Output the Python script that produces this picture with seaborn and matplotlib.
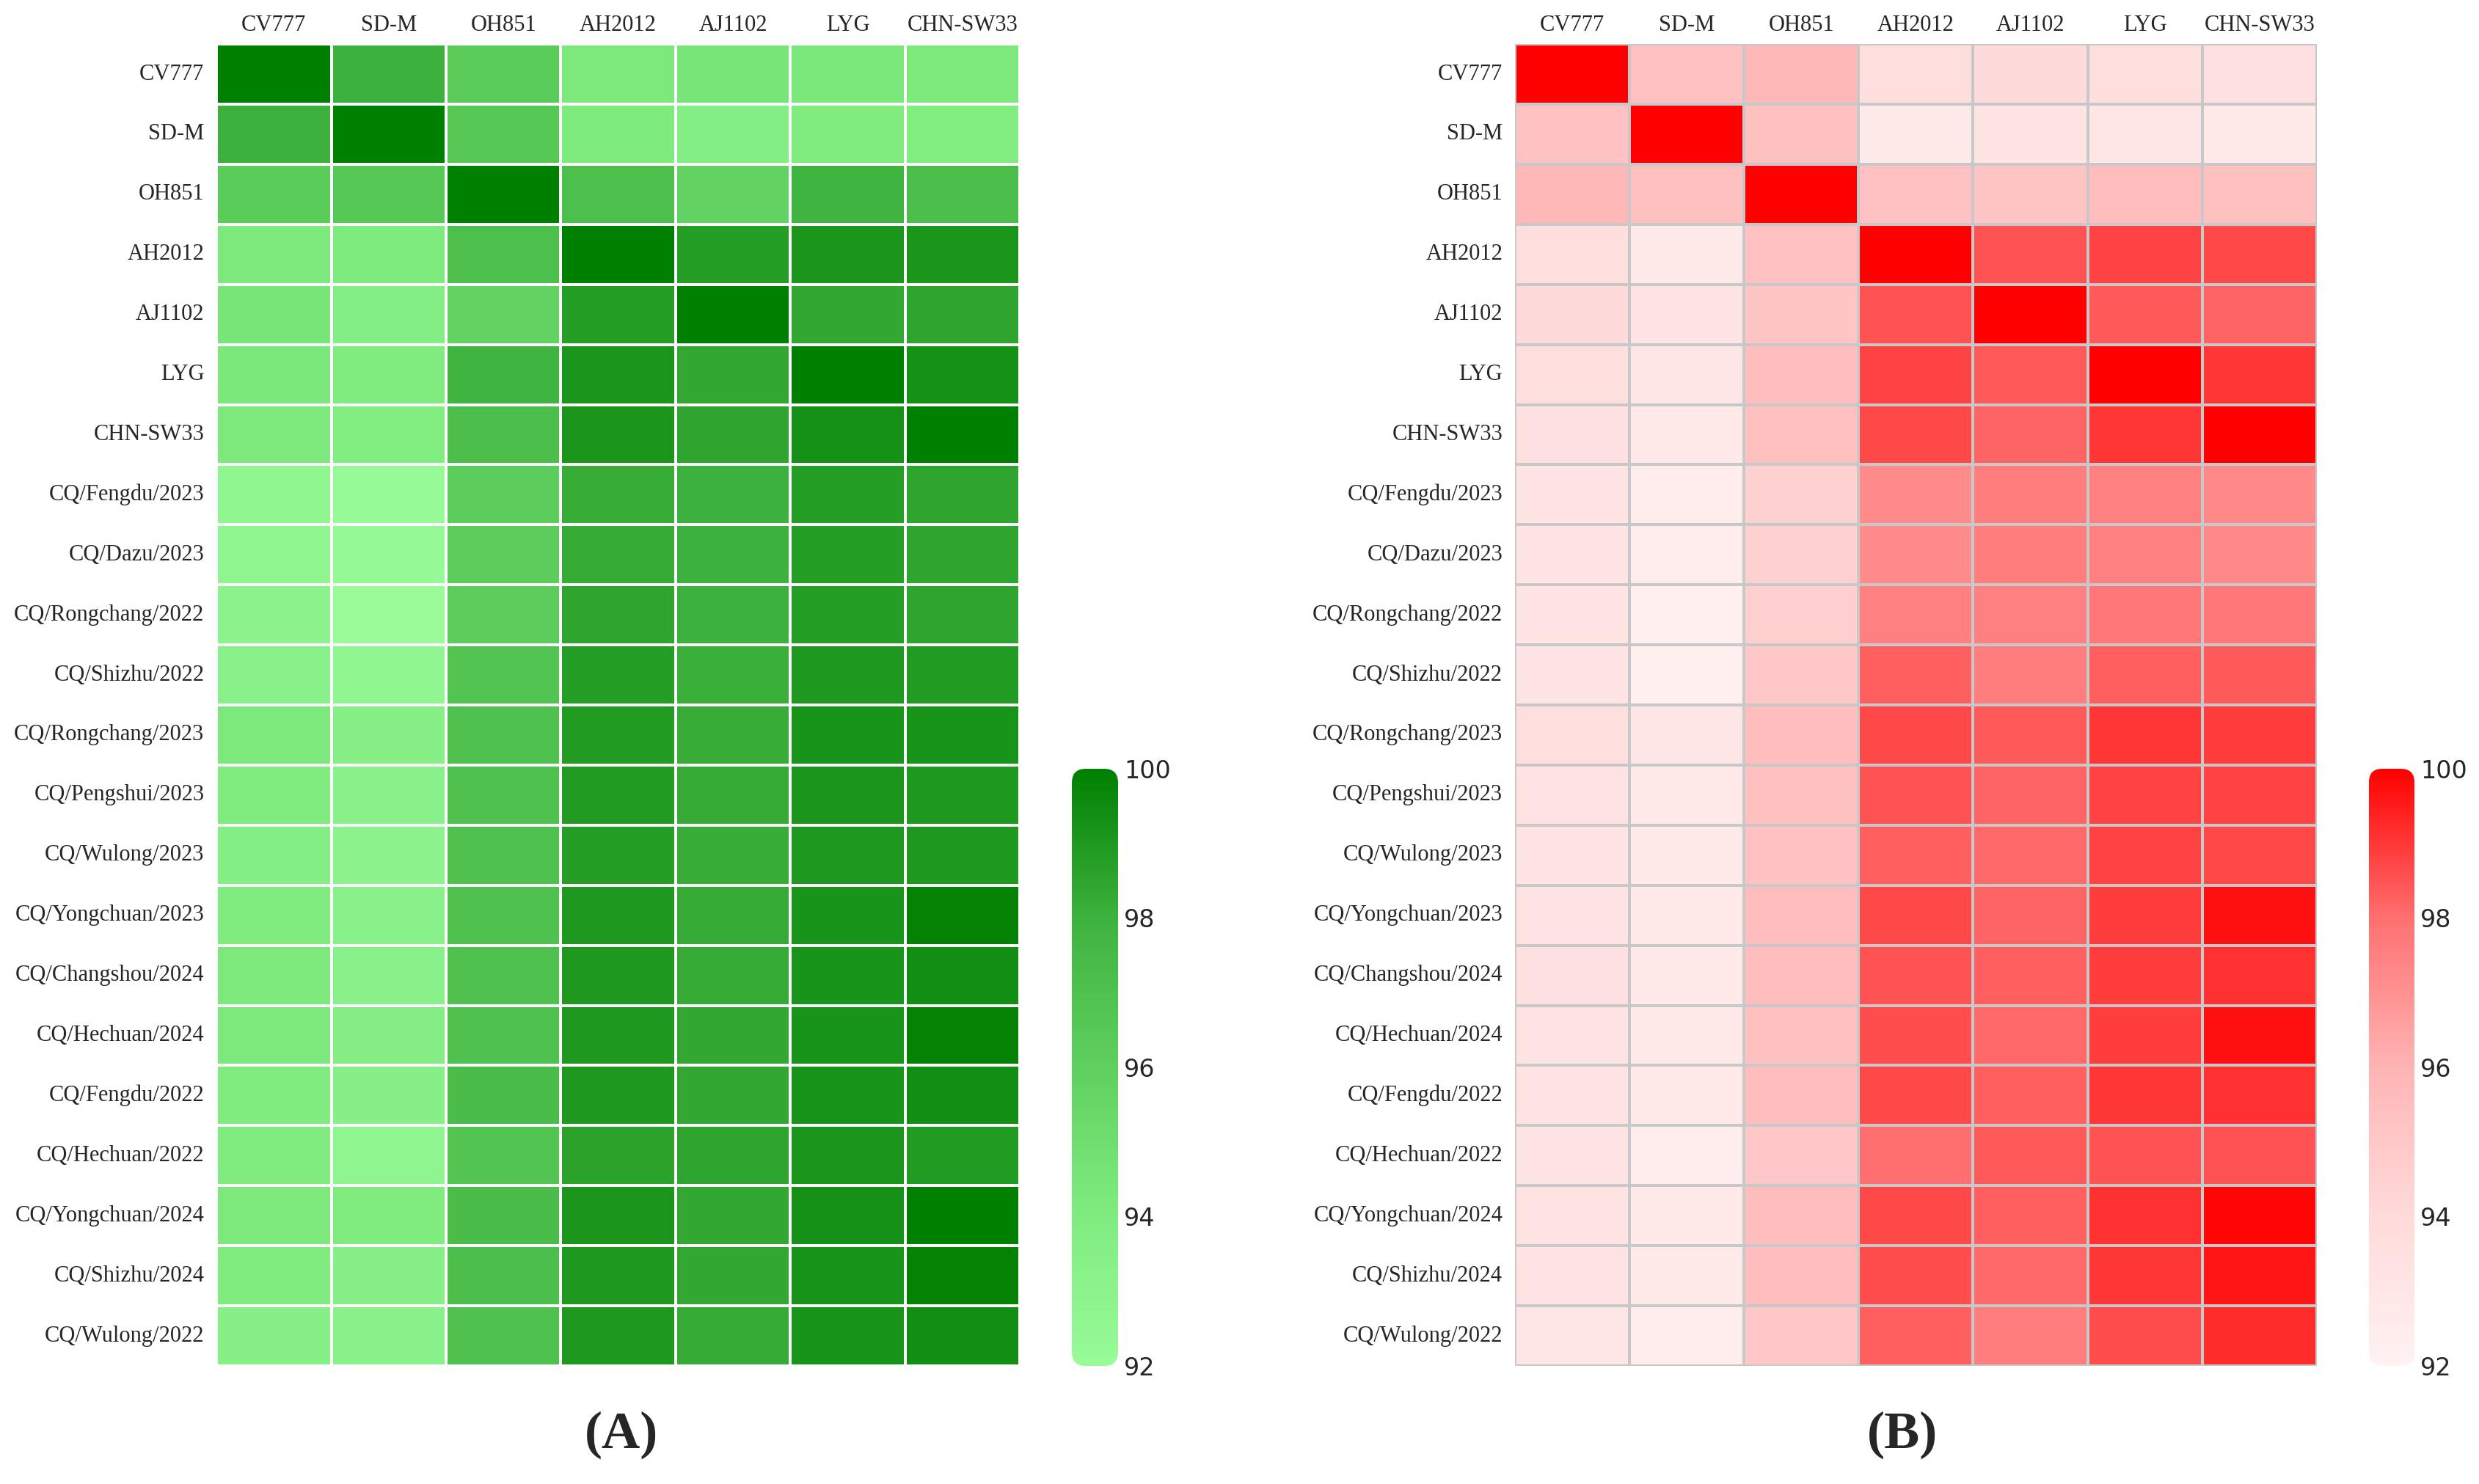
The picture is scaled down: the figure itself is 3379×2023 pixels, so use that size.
import numpy as np
import pandas as pd
import matplotlib
matplotlib.use("Agg")
import matplotlib.pyplot as plt
import seaborn as sns
from matplotlib.colors import LinearSegmentedColormap
from matplotlib.patches import FancyBboxPatch

# reference strains (columns) and all isolates (rows)
strains = ["CV777", "SD-M", "OH851", "AH2012", "AJ1102", "LYG", "CHN-SW33"]
isolates = strains + [
    "CQ/Fengdu/2023", "CQ/Dazu/2023", "CQ/Rongchang/2022", "CQ/Shizhu/2022",
    "CQ/Rongchang/2023", "CQ/Pengshui/2023", "CQ/Wulong/2023", "CQ/Yongchuan/2023",
    "CQ/Changshou/2024", "CQ/Hechuan/2024", "CQ/Fengdu/2022", "CQ/Hechuan/2022",
    "CQ/Yongchuan/2024", "CQ/Shizhu/2024", "CQ/Wulong/2022",
]

# panel A identity (%)
identity_a = [
    [100.0, 98.0, 96.3, 94.2, 94.5, 94.3, 94.2],
    [98.0, 100.0, 96.5, 94.1, 93.8, 94.0, 93.9],
    [96.3, 96.5, 100.0, 97.1, 95.8, 97.9, 97.2],
    [94.2, 94.1, 97.1, 100.0, 98.8, 99.1, 99.1],
    [94.5, 93.8, 95.8, 98.8, 100.0, 98.4, 98.5],
    [94.3, 94.0, 97.9, 99.1, 98.4, 100.0, 99.3],
    [94.2, 93.9, 97.2, 99.1, 98.5, 99.3, 100.0],
    [92.8, 92.2, 96.2, 98.2, 98.0, 98.8, 98.5],
    [92.8, 92.3, 96.2, 98.3, 98.0, 98.8, 98.5],
    [93.0, 92.0, 96.2, 98.5, 98.0, 98.8, 98.5],
    [93.3, 92.7, 96.8, 98.8, 98.1, 99.0, 98.9],
    [94.2, 93.5, 97.0, 98.9, 98.2, 99.2, 99.2],
    [94.0, 93.3, 97.0, 98.9, 98.3, 99.1, 99.0],
    [93.8, 93.0, 97.0, 98.8, 98.2, 99.0, 99.0],
    [94.0, 93.3, 97.0, 99.0, 98.3, 99.2, 99.9],
    [94.2, 93.3, 97.0, 99.0, 98.3, 99.2, 99.4],
    [94.2, 93.7, 97.0, 99.0, 98.4, 99.2, 99.9],
    [94.0, 93.5, 97.3, 99.0, 98.4, 99.2, 99.4],
    [94.0, 92.8, 96.8, 98.6, 98.5, 99.1, 98.9],
    [94.2, 94.0, 97.3, 99.1, 98.4, 99.3, 100.0],
    [94.0, 93.5, 97.2, 99.0, 98.4, 99.2, 99.9],
    [93.5, 93.3, 97.0, 99.0, 98.3, 99.2, 99.4],
]

# panel B identity (%)
identity_b = [
    [100.0, 95.3, 95.8, 93.7, 94.0, 93.7, 93.5],
    [95.3, 100.0, 95.4, 92.7, 93.2, 93.0, 92.8],
    [95.8, 95.4, 100.0, 95.3, 95.1, 95.5, 95.4],
    [93.7, 92.7, 95.3, 100.0, 98.5, 98.8, 98.7],
    [94.0, 93.2, 95.1, 98.5, 100.0, 98.4, 98.2],
    [93.7, 93.0, 95.5, 98.8, 98.4, 100.0, 99.0],
    [93.5, 92.8, 95.4, 98.7, 98.2, 99.0, 100.0],
    [93.2, 92.5, 94.5, 97.2, 97.6, 97.5, 97.3],
    [93.2, 92.5, 94.5, 97.2, 97.6, 97.5, 97.3],
    [93.2, 92.3, 94.6, 97.5, 97.5, 97.8, 97.8],
    [93.2, 92.3, 95.0, 98.3, 97.6, 98.3, 98.4],
    [93.7, 93.0, 95.5, 98.7, 98.4, 99.0, 98.9],
    [93.3, 92.8, 95.4, 98.5, 98.2, 98.8, 98.8],
    [93.2, 92.7, 95.3, 98.3, 98.1, 98.8, 98.7],
    [93.3, 92.8, 95.5, 98.7, 98.2, 98.9, 99.7],
    [93.5, 92.8, 95.5, 98.5, 98.3, 98.9, 99.1],
    [93.3, 92.8, 95.4, 98.6, 98.1, 98.9, 99.7],
    [93.3, 92.8, 95.5, 98.7, 98.3, 99.0, 99.1],
    [93.2, 92.5, 95.0, 98.0, 98.4, 98.5, 98.5],
    [93.3, 92.8, 95.5, 98.7, 98.3, 99.1, 99.9],
    [93.3, 92.7, 95.5, 98.6, 98.1, 99.0, 99.6],
    [93.0, 92.5, 95.0, 98.3, 97.6, 98.6, 99.2],
]

cbar_ticks = [92, 94, 96, 98, 100]

sns.set_theme(style="white")
plt.rcParams["font.family"] = ["Liberation Serif", "DejaVu Serif"]

green_cmap = LinearSegmentedColormap.from_list(
    "green_id", ["#98FB98", "#80EC80", "#5FD05F", "#3EB23E", "#008000"])
red_cmap = LinearSegmentedColormap.from_list(
    "red_id", ["#FFF2F2", "#FFDADA", "#FFB4B4", "#FF7070", "#FF0000"])


def draw_panel(fig, values, cmap, line_color, heat_rect, cbar_rect, label, label_x):
    df = pd.DataFrame(values, index=isolates, columns=strains)
    ax = fig.add_axes(heat_rect)
    cax = fig.add_axes(cbar_rect)
    sns.heatmap(df, ax=ax, cbar_ax=cax, cmap=cmap, vmin=92, vmax=100,
                linewidths=1.6, linecolor=line_color,
                cbar_kws={"ticks": cbar_ticks})
    ax.xaxis.tick_top()
    ax.tick_params(axis="x", length=0, pad=8, labelsize=22)
    ax.tick_params(axis="y", length=0, pad=12, labelsize=22)
    plt.setp(ax.get_xticklabels(), rotation=0)
    plt.setp(ax.get_yticklabels(), rotation=0)

    cbar = ax.collections[0].colorbar
    cbar.outline.set_visible(False)
    cbar.ax.tick_params(length=0, pad=6, labelsize=24)
    for t in cbar.ax.get_yticklabels():
        t.set_fontfamily("DejaVu Sans")
    # rounded ends on the colour bar
    w_px = cbar_rect[2] * fig.get_figwidth()
    h_px = cbar_rect[3] * fig.get_figheight()
    box = FancyBboxPatch((0, 0), 1, 1, boxstyle="round,pad=0,rounding_size=0.3",
                         mutation_aspect=w_px / h_px, transform=cax.transAxes,
                         facecolor="none", edgecolor="none")
    cax.add_patch(box)
    cbar.solids.set_clip_path(box)

    fig.text(label_x, 0.033, label, ha="center", va="center",
             fontsize=52, fontweight="bold")
    return ax


fig = plt.figure(figsize=(33.8, 20.23), dpi=100)
fig.patch.set_facecolor("white")

draw_panel(fig, identity_a, green_cmap, "white",
           [0.0873, 0.0796, 0.3240, 0.8907], [0.4322, 0.0796, 0.0186, 0.4024],
           "(A)", 0.2506)
draw_panel(fig, identity_b, red_cmap, "#C8C8C8",
           [0.6109, 0.0796, 0.3234, 0.8907], [0.9553, 0.0796, 0.0183, 0.4024],
           "(B)", 0.7672)

fig.savefig("out.png", dpi=100, facecolor="white")
